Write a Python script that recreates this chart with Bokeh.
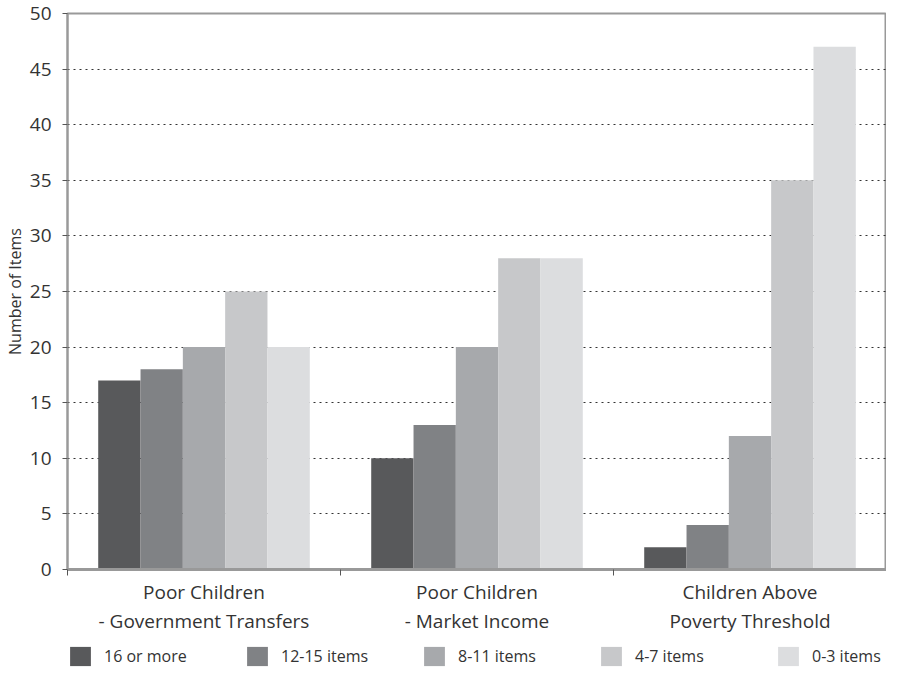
from bokeh.plotting import figure
from bokeh.models import ColumnDataSource, FixedTicker, Legend, LegendItem
from bokeh.layouts import column
from bokeh.transform import dodge
from bokeh.embed import file_html
from bokeh.resources import INLINE

groups = ["Poor Children\n- Government Transfers", "Poor Children\n- Market Income", "Children Above\nPoverty Threshold"]
series = ["16 or more", "12-15 items", "8-11 items", "4-7 items", "0-3 items"]
s16 = [17, 10, 2]
s12 = [18, 13, 4]
s8 = [20, 20, 12]
s4 = [25, 28, 35]
s0 = [20, 28, 47]
colors = ["#58595b", "#808285", "#a7a9ac", "#c7c8ca", "#dcdddf"]

FONT = "Open Sans"

src = ColumnDataSource(dict(x=[i + 0.5 for i in range(len(groups))],
                            s16=s16, s12=s12, s8=s8, s4=s4, s0=s0))

p = figure(width=886, height=644, x_range=(0, 3), y_range=(0, 50),
           output_backend="svg", toolbar_location=None,
           min_border_left=60, min_border_top=13, min_border_right=0,
           min_border_bottom=75)

bw = 0.155
offs = [-2 * bw, -bw, 0, bw, 2 * bw]
keys = ["s16", "s12", "s8", "s4", "s0"]
for k, off, c in zip(keys, offs, colors):
    p.vbar(x=dodge("x", off), top=k, width=bw, bottom=0, source=src,
           fill_color=c, line_color=None)

p.outline_line_color = "#999999"
p.outline_line_width = 2

p.xgrid.grid_line_color = None
p.ygrid.grid_line_color = "#333333"
p.ygrid.grid_line_dash = "2 4"
p.ygrid.grid_line_width = 1
p.ygrid.ticker = FixedTicker(ticks=list(range(5, 50, 5)))

p.yaxis.ticker = FixedTicker(ticks=list(range(0, 55, 5)))
p.yaxis.axis_label = "Number of Items"
p.yaxis.axis_label_text_font = FONT
p.yaxis.axis_label_text_font_size = "16px"
p.yaxis.axis_label_text_font_style = "normal"
p.yaxis.axis_label_text_color = "#333333"
p.yaxis.axis_label_standoff = 1
p.yaxis.major_label_text_font = FONT
p.yaxis.major_label_text_font_size = "19px"
p.yaxis.major_label_text_color = "#333333"
p.yaxis.major_label_standoff = 11
p.yaxis.axis_line_color = "#999999"
p.yaxis.axis_line_width = 2
p.yaxis.major_tick_line_color = "#555555"
p.yaxis.major_tick_out = 5
p.yaxis.major_tick_in = 0
p.yaxis.minor_tick_line_color = None

p.xaxis.ticker = FixedTicker(ticks=[0.5, 1.5, 2.5], minor_ticks=[0, 1, 2, 3])
p.xaxis.major_label_overrides = {0.5: groups[0], 1.5: groups[1], 2.5: groups[2]}
p.xaxis.major_label_text_font = FONT
p.xaxis.major_label_text_font_size = "19px"
p.xaxis.major_label_text_line_height = 1.15
p.xaxis.major_label_text_color = "#333333"
p.xaxis.major_label_standoff = 3
p.xaxis.major_tick_line_color = None
p.xaxis.minor_tick_line_color = "#555555"
p.xaxis.minor_tick_out = 6
p.xaxis.minor_tick_in = 0
p.xaxis.axis_line_color = "#999999"
p.xaxis.axis_line_width = 3

# legend strip below the chart
lg = figure(width=886, height=24, x_range=(0, 1), y_range=(0, 1),
            output_backend="svg", toolbar_location=None,
            min_border_left=66, min_border_right=0, min_border_top=0,
            min_border_bottom=0, outline_line_color=None)
lg.axis.visible = False
lg.grid.visible = False
nan = float("nan")
key_src = ColumnDataSource(dict(x=[nan], top=[nan]))
dummies = [lg.vbar(x="x", top="top", width=0.1, source=key_src,
                   fill_color=c, line_color=None) for c in colors]
items = [LegendItem(label=s, renderers=[r], index=0) for s, r in zip(series, dummies)]
legend = Legend(items=items, orientation="horizontal", location=(0, 0),
                glyph_width=26, glyph_height=24, label_width=120,
                label_standoff=11, spacing=20, padding=0, margin=0,
                border_line_color=None, background_fill_alpha=0,
                label_text_font=FONT, label_text_font_size="16px",
                label_text_color="#333333")
lg.add_layout(legend, "center")

layout = column(p, lg, spacing=0)
open("out.html", "w").write(file_html(layout, INLINE))
